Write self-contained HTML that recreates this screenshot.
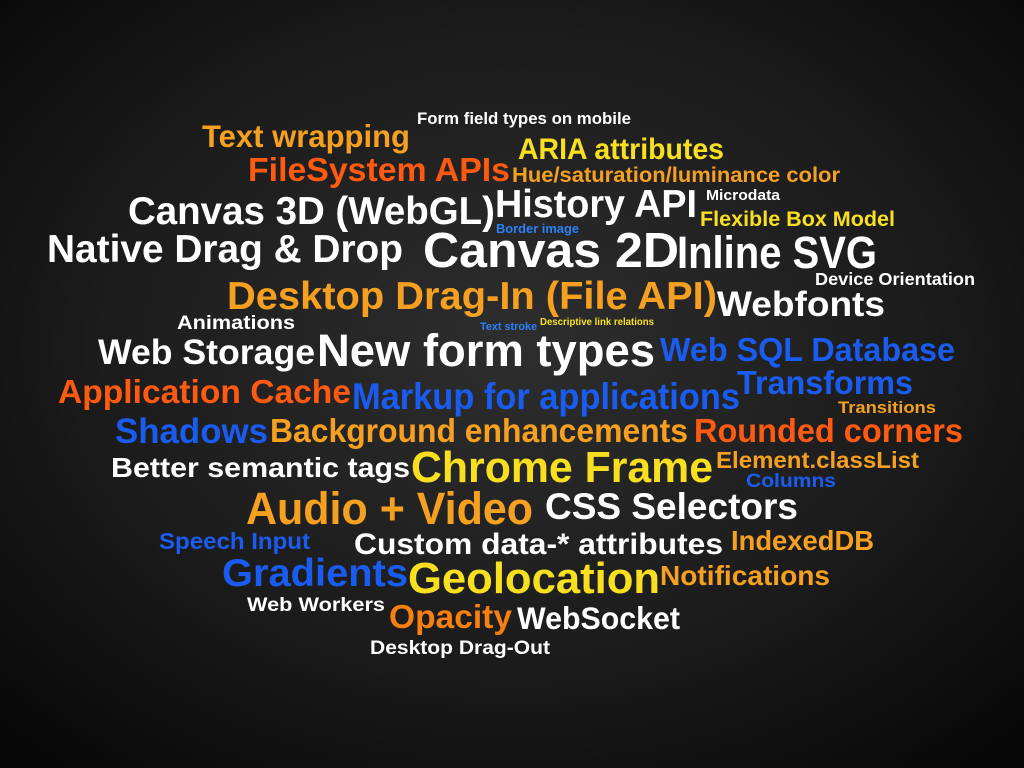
<!DOCTYPE html>
<html><head><meta charset="utf-8">
<style>
html,body{margin:0;padding:0;width:1024px;height:768px;overflow:hidden}
body{background:radial-gradient(ellipse 75% 75% at 50% 45%,#2e2e2e 0%,#1b1b1b 55%,#050505 100%)}
#cloud{position:absolute;left:0;top:0;width:1024px;height:768px}
.w{position:absolute;white-space:nowrap;line-height:1;font-family:"Liberation Sans",sans-serif;font-weight:bold;transform-origin:0 50%}
</style></head>
<body>
<div id="cloud"></div>
<script>
const words=["Form field types on mobile","Text wrapping","ARIA attributes","FileSystem APIs","Hue/saturation/luminance color","Canvas 3D (WebGL)","History API","Microdata","Flexible Box Model","Border image","Native Drag & Drop","Canvas 2D","Inline SVG","Device Orientation","Desktop Drag-In (File API)","Webfonts","Animations","Text stroke","Descriptive link relations","Web Storage","New form types","Web SQL Database","Application Cache","Markup for applications","Transforms","Transitions","Shadows","Background enhancements","Rounded corners","Better semantic tags","Chrome Frame","Element.classList","Columns","Audio + Video","CSS Selectors","Speech Input","Custom data-* attributes","IndexedDB","Gradients","Geolocation","Notifications","Web Workers","Opacity","WebSocket","Desktop Drag-Out"];
const weights=[17,32,30,34,22,40,40,15,22,13,40,50,46,18,40,36,20,11,10,36,46,34,34,38,34,17,36,34,34,28,44,24,20,46,38,24,30,28,40,44,28,20,34,32,20];
const W="#ffffff",Y="#f8e020",O="#f5a020",R="#ff5a12",B="#1a5cf0",L="#2a80f5";
const colors=[W,O,Y,R,O,W,W,W,Y,L,W,W,W,W,O,W,W,L,Y,W,W,B,R,B,B,O,B,O,R,W,Y,O,B,O,W,B,W,O,B,Y,O,W,"#f88010",W,W];
const layout=[[417,631,119],[202,410,136],[518,724,149],[248,510,170],[512,840,175],[128,495,211],[495,697,204],[706,780,196],[700,895,219],[496,579,229],[47,403,249],[423,679,251],[677,877,252],[815,975,280],[227,717,296],[717,885,304],[177,295,324],[480,537,327],[540,654,323],[98,315,352],[317,655,350],[660,955,350],[58,351,392],[352,740,396],[737,913,383],[838,936,408],[115,268,431],[270,688,431],[694,963,431],[111,410,467],[411,713,468],[716,919,461],[746,836,482],[246,533,508],[545,798,506],[159,310,542],[354,723,544],[731,874,540],[222,408,573],[408,660,579],[660,830,575],[247,385,606],[389,512,617],[517,680,618],[370,550,649]];
const cloud=document.getElementById('cloud');
words.forEach((t,i)=>{
  const s=document.createElement('span');
  s.className='w';
  s.textContent=t;
  
  
  const fs=weights[i]*0.98;
  const [x1,x2,cy]=layout[i];
  s.style.fontSize=fs+'px';
  s.style.color=colors[i];
  s.style.left=x1+'px';
  s.style.top=(cy-fs*0.49)+'px';
  cloud.appendChild(s);
  const w=s.getBoundingClientRect().width;
  s.style.transform='scaleX('+((x2-x1)/w)+')';
});
</script>
</body></html>
